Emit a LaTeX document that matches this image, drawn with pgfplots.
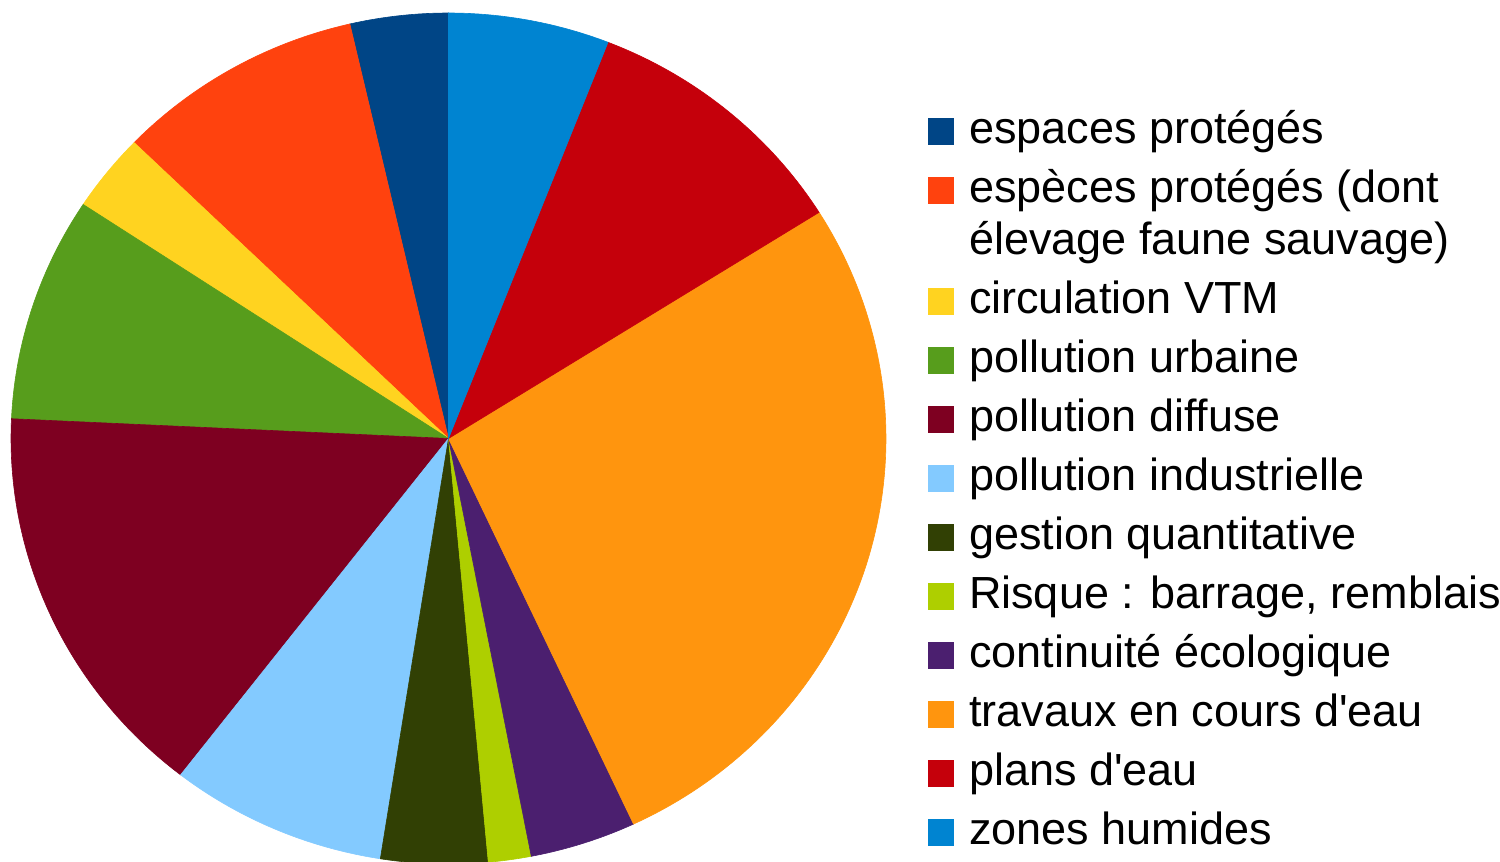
\documentclass[border=0pt]{standalone}
\usepackage{fontspec}
\setmainfont{Liberation Sans}
\usepackage{pgfplots}
\pgfplotsset{compat=1.18}

% colours (chart palette)
\definecolor{cZH}{HTML}{0084D1}
\definecolor{cPE}{HTML}{C5000B}
\definecolor{cTR}{HTML}{FF950E}
\definecolor{cCE}{HTML}{4B1F6F}
\definecolor{cRI}{HTML}{AECF00}
\definecolor{cGQ}{HTML}{314004}
\definecolor{cPI}{HTML}{83CAFF}
\definecolor{cPD}{HTML}{7E0021}
\definecolor{cPU}{HTML}{579D1C}
\definecolor{cVT}{HTML}{FFD320}
\definecolor{cES}{HTML}{FF420E}
\definecolor{cEP}{HTML}{004586}

% slice shares in percent, clockwise from 12 o'clock
\def\vZH{5.94}  % zones humides
\def\vPE{10.14} % plans d'eau
\def\vTR{26.97} % travaux en cours d'eau
\def\vCE{3.92}  % continuite ecologique
\def\vRI{1.58}  % Risque
\def\vGQ{3.94}  % gestion quantitative
\def\vPI{8.00}  % pollution industrielle
\def\vPD{15.25} % pollution diffuse
\def\vPU{8.53}  % pollution urbaine
\def\vVT{2.97}  % circulation VTM
\def\vES{9.14}  % especes protegees
\def\vEP{3.62}  % espaces proteges

\newcommand{\pieslice}[3]{%
  \addplot[fill=#3, draw=#3, line width=0.3pt, domain=#1:#2, samples=90, variable=\t]
    ({sin(\t)},{cos(\t)}) -- (axis cs:0,0) -- cycle;}
\newcommand{\rs}{\rule{0pt}{20pt}}

\begin{document}
\begin{tikzpicture}
\useasboundingbox (0,0) rectangle (750pt,431pt);
\pgfmathsetmacro\aA{0}
\pgfmathsetmacro\aB{\aA+3.6*\vZH}
\pgfmathsetmacro\aC{\aB+3.6*\vPE}
\pgfmathsetmacro\aD{\aC+3.6*\vTR}
\pgfmathsetmacro\aE{\aD+3.6*\vCE}
\pgfmathsetmacro\aF{\aE+3.6*\vRI}
\pgfmathsetmacro\aG{\aF+3.6*\vGQ}
\pgfmathsetmacro\aH{\aG+3.6*\vPI}
\pgfmathsetmacro\aI{\aH+3.6*\vPD}
\pgfmathsetmacro\aJ{\aI+3.6*\vPU}
\pgfmathsetmacro\aK{\aJ+3.6*\vVT}
\pgfmathsetmacro\aL{\aK+3.6*\vES}
\pgfmathsetmacro\aM{\aL+3.6*\vEP}
\begin{axis}[
  at={(5.5pt,-1pt)}, anchor=south west,
  scale only axis, width=437.5pt, height=425.5pt,
  xmin=-1, xmax=1, ymin=-1, ymax=1,
  hide axis, clip=false,
  legend image code/.code={\fill[#1] (0pt,-5.75pt) rectangle (12.5pt,7.25pt);},
  legend cell align=left,
  legend style={at={(1.048,0.8943)}, anchor=north west, draw=none, fill=none,
    inner sep=0pt, row sep=0pt, column sep=7.5pt,
    font=\fontsize{22.5}{26}\selectfont, nodes={inner sep=0pt, text depth=9.5pt}},
]
\pieslice{\aL}{\aM}{cEP}
\addlegendentry{\rs espaces protégés}
\pieslice{\aK}{\aL}{cES}
\addlegendentry{\rs espèces protégés (dont}
\addlegendimage{empty legend}
\addlegendentry{\rule{0pt}{16.5pt}élevage faune sauvage)}
\pieslice{\aJ}{\aK}{cVT}
\addlegendentry{\rs circulation VTM}
\pieslice{\aI}{\aJ}{cPU}
\addlegendentry{\rs pollution urbaine}
\pieslice{\aH}{\aI}{cPD}
\addlegendentry{\rs pollution diffuse}
\pieslice{\aG}{\aH}{cPI}
\addlegendentry{\rs pollution industrielle}
\pieslice{\aF}{\aG}{cGQ}
\addlegendentry{\rs gestion quantitative}
\pieslice{\aE}{\aF}{cRI}
\addlegendentry{\rs Risque : barrage, remblais}
\pieslice{\aD}{\aE}{cCE}
\addlegendentry{\rs continuité écologique}
\pieslice{\aC}{\aD}{cTR}
\addlegendentry{\rs travaux en cours d\textquotesingle eau}
\pieslice{\aB}{\aC}{cPE}
\addlegendentry{\rs plans d\textquotesingle eau}
\pieslice{\aA}{\aB}{cZH}
\addlegendentry{\rs zones humides}
\end{axis}
\end{tikzpicture}
\end{document}
